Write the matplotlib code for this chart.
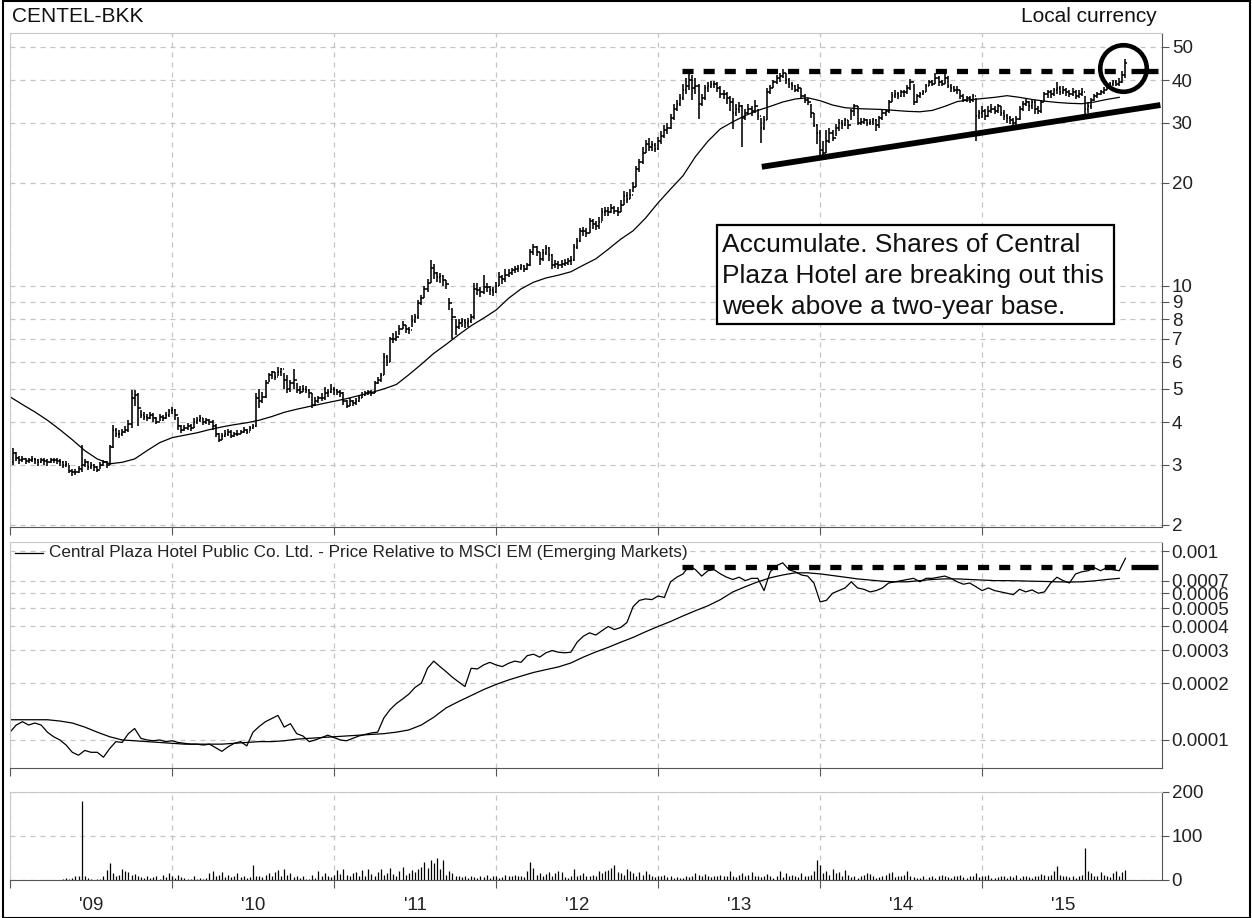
import numpy as np
import matplotlib
matplotlib.use("Agg")
import matplotlib.pyplot as plt
from matplotlib.collections import LineCollection
from matplotlib.patches import Rectangle
from matplotlib.ticker import FixedLocator, FixedFormatter, NullFormatter

plt.rcParams['font.family'] = ['Liberation Sans', 'DejaVu Sans']

# -------------------------------
# Weekly data, first bar = first week of July 2008
# -------------------------------
start_year = 2008.5

close = [
    3.05, 3.25, 3.15, 3.10, 3.12, 3.08, 3.10, 3.12, 3.10, 3.05,
    3.10, 3.08, 3.05, 3.10, 3.10, 3.08, 3.05, 3.00, 3.02, 2.88,
    2.85, 2.86, 2.92, 3.00, 3.05, 2.95, 3.00, 2.95, 2.90, 3.00,
    3.05, 3.00, 3.38, 3.80, 3.70, 3.68, 3.75, 3.80, 3.95, 4.70,
    4.80, 4.40, 4.20, 4.15, 4.10, 4.20, 4.10, 4.00, 4.15, 4.10,
    4.20, 4.30, 4.35, 4.20, 3.90, 3.80, 3.85, 3.90, 3.85, 4.00,
    4.05, 4.10, 4.00, 4.05, 4.00, 3.90, 3.70, 3.55, 3.65, 3.70,
    3.75, 3.65, 3.70, 3.70, 3.75, 3.80, 3.75, 3.85, 3.90, 4.70,
    4.60, 4.75, 5.20, 5.50, 5.60, 5.40, 5.60, 5.70, 5.30, 5.00,
    5.20, 5.30, 4.95, 4.90, 5.00, 4.95, 4.85, 4.50, 4.60, 4.70,
    4.70, 4.85, 4.90, 5.00, 4.95, 4.90, 4.85, 4.60, 4.45, 4.60,
    4.55, 4.60, 4.70, 4.80, 4.85, 4.90, 4.85, 5.20, 5.30, 5.50,
    6.20, 6.00, 7.00, 7.00, 7.10, 7.50, 7.70, 7.50, 7.45, 7.90,
    8.10, 8.90, 9.20, 9.80, 10.2, 11.3, 10.9, 10.6, 10.7, 10.4,
    10.1, 8.90, 8.10, 7.60, 7.80, 7.90, 7.80, 7.90, 8.10, 9.80,
    9.70, 9.60, 9.90, 9.90, 9.70, 9.60, 10.0, 10.6, 10.5, 10.8,
    10.9, 11.1, 11.2, 11.3, 11.4, 11.2, 11.5, 12.6, 13.0, 12.6,
    12.0, 12.5, 12.9, 12.3, 11.5, 11.6, 11.5, 11.6, 11.7, 11.8,
    11.9, 13.0, 13.5, 14.5, 14.5, 14.3, 15.5, 15.2, 15.0, 15.4,
    16.4, 16.6, 16.5, 16.9, 16.6, 16.5, 17.3, 18.3, 18.0, 18.5,
    19.5, 22.0, 23.0, 24.5, 26.0, 25.5, 25.8, 25.2, 26.5, 27.5,
    28.5, 29.0, 31.0, 33.0, 34.0, 35.5, 37.5, 38.5, 40.0, 38.0,
    38.5, 34.0, 35.5, 38.0, 38.5, 39.0, 39.0, 38.0, 36.5, 36.5,
    35.5, 34.5, 32.0, 33.0, 33.5, 31.0, 32.0, 33.0, 32.5, 33.5,
    31.5, 29.0, 30.5, 37.0, 38.0, 39.5, 40.5, 41.0, 42.0, 40.0,
    39.0, 38.5, 37.5, 38.0, 36.0, 35.0, 34.5, 32.0, 29.5, 28.0,
    25.0, 24.5, 26.5, 28.0, 27.0, 29.0, 30.0, 29.5, 30.5, 29.5,
    32.5, 33.5, 30.0, 30.2, 30.5, 30.0, 30.2, 30.5, 29.5, 31.0,
    32.0, 32.5, 34.5, 36.0, 36.5, 36.0, 37.0, 36.8, 38.0, 39.5,
    34.5, 36.0, 36.5, 37.0, 38.5, 39.5, 39.0, 40.5, 39.5, 39.0,
    40.5, 38.5, 38.0, 37.5, 37.5, 36.0, 35.0, 35.5, 35.0, 36.0,
    31.5, 32.0, 32.5, 31.5, 32.5, 33.0, 32.5, 33.5, 32.0, 31.5,
    31.0, 30.5, 30.0, 30.8, 33.0, 34.0, 34.5, 33.5, 34.5, 33.0,
    32.5, 34.5, 36.5, 37.0, 36.5, 37.5, 38.0, 37.0, 37.5, 37.0,
    36.5, 37.0, 36.0, 36.5, 37.0, 33.0, 33.5, 35.0, 36.0, 36.5,
    37.0, 37.5, 38.5, 39.0, 39.5, 39.0, 39.5, 41.5, 45.0,
]

high = [
    3.15, 3.35, 3.28, 3.18, 3.18, 3.15, 3.15, 3.18, 3.15, 3.12,
    3.15, 3.14, 3.12, 3.15, 3.15, 3.14, 3.12, 3.08, 3.07, 3.00,
    2.92, 2.92, 2.98, 3.43, 3.12, 3.08, 3.06, 3.02, 2.97, 3.05,
    3.10, 3.08, 3.42, 3.92, 3.85, 3.78, 3.82, 3.90, 4.05, 4.95,
    4.95, 4.85, 4.35, 4.28, 4.22, 4.28, 4.25, 4.15, 4.22, 4.20,
    4.28, 4.36, 4.42, 4.36, 4.15, 3.92, 3.92, 3.98, 3.95, 4.10,
    4.15, 4.20, 4.12, 4.12, 4.08, 4.05, 3.95, 3.72, 3.72, 3.78,
    3.82, 3.80, 3.75, 3.78, 3.80, 3.86, 3.82, 3.90, 3.96, 4.85,
    5.00, 4.90, 5.30, 5.55, 5.65, 5.60, 5.80, 5.75, 5.55, 5.50,
    5.30, 5.70, 5.20, 5.10, 5.12, 5.10, 5.00, 4.85, 4.72, 4.78,
    4.85, 5.05, 5.00, 5.15, 5.05, 5.00, 4.95, 4.90, 4.65, 4.70,
    4.65, 4.70, 4.78, 4.88, 4.92, 4.96, 4.95, 5.28, 5.40, 5.55,
    6.35, 6.30, 7.10, 7.30, 7.40, 7.70, 7.90, 7.70, 7.60, 8.20,
    8.30, 9.10, 9.40, 10.0, 10.5, 11.9, 11.6, 11.0, 10.9, 10.8,
    10.4, 9.20, 8.60, 8.00, 8.00, 8.05, 8.00, 8.05, 8.30, 10.2,
    10.2, 9.90, 10.8, 10.2, 10.0, 9.90, 10.3, 11.0, 10.8, 11.2,
    11.2, 11.3, 11.4, 11.5, 11.6, 11.5, 11.7, 12.8, 13.3, 13.1,
    12.6, 12.8, 13.2, 13.0, 12.4, 11.9, 11.8, 11.9, 12.0, 12.1,
    12.2, 13.3, 13.8, 14.8, 14.9, 14.8, 15.8, 15.7, 15.5, 15.9,
    16.9, 17.0, 17.0, 17.4, 17.1, 17.0, 17.8, 19.0, 18.8, 19.2,
    20.2, 22.4, 23.5, 25.5, 26.8, 27.0, 26.5, 26.2, 27.2, 28.3,
    29.5, 30.0, 31.8, 34.0, 35.0, 36.5, 39.0, 40.5, 41.8, 41.5,
    40.5, 39.0, 36.5, 38.8, 39.5, 39.8, 39.8, 39.5, 38.5, 37.5,
    37.0, 36.0, 35.5, 34.0, 34.5, 33.8, 33.0, 34.0, 33.5, 35.0,
    33.0, 31.0, 31.5, 37.8, 38.8, 40.0, 41.5, 42.0, 43.0, 42.0,
    40.5, 39.5, 38.8, 39.0, 38.0, 36.5, 35.5, 34.0, 32.0, 29.8,
    28.5, 26.5, 28.5, 29.0, 28.5, 29.8, 30.7, 30.5, 31.0, 30.5,
    33.0, 34.0, 33.5, 31.0, 31.0, 30.8, 30.8, 31.0, 30.8, 31.5,
    32.8, 33.0, 35.0, 36.8, 37.5, 37.0, 37.5, 37.5, 38.8, 40.2,
    39.0, 36.5, 37.0, 37.5, 39.0, 40.0, 40.0, 42.0, 41.0, 40.0,
    42.0, 41.0, 39.0, 38.5, 38.5, 37.5, 36.5, 36.0, 36.0, 36.5,
    35.5, 32.8, 33.5, 33.0, 33.5, 34.0, 33.5, 34.0, 33.5, 32.8,
    31.8, 31.3, 31.0, 31.3, 33.5, 34.8, 35.3, 34.8, 35.0, 35.0,
    33.5, 35.0, 37.0, 37.5, 37.5, 37.8, 39.6, 38.5, 38.5, 38.0,
    37.5, 37.8, 37.5, 37.5, 37.8, 36.0, 34.5, 35.5, 36.5, 37.0,
    37.5, 38.2, 39.0, 39.5, 40.0, 40.0, 40.5, 42.5, 46.0,
]

low = [
    2.98, 3.00, 3.08, 3.02, 3.05, 3.02, 3.03, 3.05, 3.02, 2.98,
    3.03, 3.00, 2.98, 3.03, 3.04, 3.01, 2.98, 2.94, 2.95, 2.83,
    2.78, 2.80, 2.84, 2.85, 2.96, 2.90, 2.92, 2.88, 2.86, 2.92,
    2.98, 2.94, 3.00, 3.35, 3.62, 3.60, 3.64, 3.72, 3.75, 3.85,
    4.45, 3.90, 4.10, 4.05, 4.02, 4.08, 4.00, 3.95, 4.02, 4.02,
    4.08, 4.15, 4.22, 4.05, 3.78, 3.72, 3.76, 3.80, 3.76, 3.85,
    3.95, 4.00, 3.92, 3.95, 3.92, 3.80, 3.62, 3.50, 3.55, 3.62,
    3.65, 3.60, 3.62, 3.64, 3.68, 3.72, 3.68, 3.76, 3.82, 3.88,
    4.40, 4.55, 4.70, 5.25, 5.35, 5.30, 5.45, 5.45, 5.00, 4.85,
    4.90, 5.00, 4.85, 4.82, 4.88, 4.85, 4.70, 4.40, 4.45, 4.55,
    4.60, 4.65, 4.75, 4.85, 4.80, 4.80, 4.72, 4.50, 4.40, 4.45,
    4.45, 4.50, 4.58, 4.70, 4.76, 4.80, 4.76, 4.85, 5.15, 5.25,
    5.50, 5.85, 6.00, 6.80, 6.90, 7.20, 7.50, 7.30, 7.25, 7.60,
    7.80, 8.00, 8.80, 9.20, 9.60, 10.2, 10.5, 10.3, 10.2, 10.0,
    9.80, 8.50, 7.00, 7.20, 7.50, 7.60, 7.55, 7.60, 7.80, 8.00,
    9.40, 9.30, 9.50, 9.60, 9.40, 9.35, 9.55, 10.0, 10.1, 10.3,
    10.6, 10.8, 10.9, 11.0, 11.1, 11.0, 11.1, 11.4, 12.3, 12.2,
    11.5, 11.8, 12.3, 11.8, 11.2, 11.3, 11.2, 11.3, 11.4, 11.5,
    11.5, 11.8, 12.8, 13.4, 14.0, 13.9, 14.3, 14.7, 14.6, 14.7,
    15.5, 16.0, 16.0, 16.3, 16.2, 16.0, 16.4, 17.2, 17.5, 17.9,
    18.8, 19.5, 21.5, 22.8, 24.5, 24.8, 24.8, 24.6, 25.0, 26.0,
    27.0, 27.8, 28.8, 30.5, 32.5, 33.5, 35.0, 36.5, 37.5, 35.0,
    36.5, 30.7, 33.5, 35.0, 37.0, 37.8, 38.0, 36.8, 35.5, 35.3,
    34.0, 32.5, 28.8, 31.5, 32.0, 25.5, 30.5, 31.8, 31.5, 32.0,
    30.5, 26.2, 28.5, 30.5, 36.5, 37.8, 39.0, 39.5, 40.5, 39.0,
    38.0, 37.5, 36.8, 36.8, 35.5, 34.3, 33.8, 31.0, 29.2, 26.0,
    24.0, 23.8, 24.5, 26.2, 26.5, 27.5, 28.3, 28.8, 29.3, 28.8,
    30.5, 31.5, 29.5, 29.5, 29.8, 29.3, 29.6, 29.5, 28.3, 29.0,
    30.5, 31.3, 32.0, 34.5, 35.5, 35.3, 35.8, 35.8, 36.5, 37.5,
    33.8, 34.2, 35.5, 36.2, 36.8, 38.5, 38.3, 39.0, 38.5, 38.5,
    39.0, 38.0, 37.0, 36.8, 36.5, 35.3, 34.5, 34.5, 34.3, 34.5,
    26.6, 30.8, 31.0, 30.5, 31.2, 32.0, 31.8, 32.0, 31.5, 30.5,
    30.0, 29.8, 29.0, 29.6, 30.5, 32.5, 33.5, 32.5, 33.0, 31.8,
    31.8, 32.0, 34.5, 35.5, 35.5, 36.0, 36.5, 36.2, 36.5, 36.0,
    35.8, 36.0, 35.3, 35.5, 36.0, 31.5, 32.0, 33.0, 34.8, 35.5,
    36.2, 36.5, 37.5, 38.2, 38.5, 38.3, 38.5, 39.2, 40.5,
]

# moving average of price, one value every 4 weeks
price_ma = [
    4.74, 4.50, 4.28, 4.05, 3.80, 3.55, 3.30, 3.12, 3.02, 3.05,
    3.12, 3.30, 3.48, 3.60, 3.66, 3.72, 3.80, 3.87, 3.93, 3.98,
    4.05, 4.15, 4.27, 4.36, 4.44, 4.52, 4.60, 4.68, 4.78, 4.88,
    5.00, 5.15, 5.50, 5.90, 6.35, 6.75, 7.20, 7.65, 8.05, 8.50,
    9.20, 9.80, 10.25, 10.55, 10.75, 11.0, 11.5, 12.0, 12.8, 13.7,
    14.5, 15.8, 17.5, 19.2, 21.0, 23.9, 26.5, 28.8, 30.2, 31.5,
    32.6, 33.5, 34.5, 35.2, 35.5, 34.8, 33.8, 33.2, 33.0, 32.9,
    32.8, 32.6, 32.4, 32.3, 32.6, 33.5, 34.6, 35.0, 35.3, 35.6,
    36.0, 35.6, 35.1, 34.7, 34.4, 34.2, 34.1, 34.5, 35.1, 35.6,
]

# price relative to MSCI EM, one value every 2 weeks
relative = [
    0.000110, 0.000120, 0.000125, 0.000120, 0.000123, 0.000120, 0.000110, 0.000104, 0.000100, 0.000094,
    0.000086, 0.000083, 0.000088, 0.000086, 0.000086, 0.000081, 0.000090, 0.000098, 0.000097, 0.000108,
    0.000115, 0.000102, 0.000100, 0.000099, 0.000100, 0.000098, 0.000099, 0.000097, 0.000096, 0.000095,
    0.000095, 0.000094, 0.000095, 0.000091, 0.000087, 0.000092, 0.000096, 0.000098, 0.000093, 0.000110,
    0.000118, 0.000125, 0.000130, 0.000135, 0.000117, 0.000122, 0.000108, 0.000105, 0.000098, 0.000100,
    0.000103, 0.000106, 0.000103, 0.000100, 0.000099, 0.000102, 0.000105, 0.000107, 0.000109, 0.000110,
    0.000131, 0.000145, 0.000156, 0.000165, 0.000175, 0.000190, 0.000200, 0.000240, 0.000262, 0.000245,
    0.000230, 0.000215, 0.000203, 0.000192, 0.000240, 0.000238, 0.000250, 0.000258, 0.000250, 0.000245,
    0.000255, 0.000262, 0.000258, 0.000280, 0.000285, 0.000275, 0.000290, 0.000298, 0.000292, 0.000290,
    0.000292, 0.000330, 0.000355, 0.000370, 0.000360, 0.000380, 0.000400, 0.000385, 0.000395, 0.000420,
    0.000510, 0.000550, 0.000560, 0.000555, 0.000580, 0.000570, 0.000690, 0.000730, 0.000760, 0.000840,
    0.000800, 0.000740, 0.000790, 0.000800, 0.000760, 0.000730, 0.000710, 0.000730, 0.000700, 0.000720,
    0.000720, 0.000620, 0.000780, 0.000840, 0.000870, 0.000800, 0.000780, 0.000750, 0.000740, 0.000680,
    0.000540, 0.000550, 0.000600, 0.000620, 0.000640, 0.000690, 0.000640, 0.000630, 0.000610, 0.000620,
    0.000640, 0.000680, 0.000690, 0.000700, 0.000710, 0.000720, 0.000690, 0.000720, 0.000720, 0.000730,
    0.000740, 0.000720, 0.000690, 0.000670, 0.000680, 0.000650, 0.000620, 0.000640, 0.000620, 0.000610,
    0.000600, 0.000590, 0.000630, 0.000610, 0.000625, 0.000600, 0.000610, 0.000680, 0.000730, 0.000700,
    0.000680, 0.000760, 0.000780, 0.000790, 0.000820, 0.000790, 0.000820, 0.000800, 0.000790, 0.000920,
]

# moving average of the relative line, one value every 4 weeks
relative_ma = [
    0.000128, 0.000128, 0.000128, 0.000128, 0.000126, 0.000123, 0.000117, 0.000110, 0.000104, 0.000100,
    0.000099, 0.000098, 0.000097, 0.000096, 0.000095, 0.000095, 0.000095, 0.000095, 0.000096, 0.000097,
    0.000098, 0.000098, 0.000099, 0.000101, 0.000102, 0.000103, 0.000104, 0.000105, 0.000106, 0.000107,
    0.000108, 0.000110, 0.000113, 0.000120, 0.000132, 0.000148, 0.000160, 0.000172, 0.000185, 0.000197,
    0.000208, 0.000218, 0.000228, 0.000236, 0.000244, 0.000256, 0.000275, 0.000293, 0.000310, 0.000330,
    0.000350, 0.000375, 0.000400, 0.000425, 0.000455, 0.000485, 0.000515, 0.000555, 0.000610, 0.000650,
    0.000690, 0.000725, 0.000750, 0.000770, 0.000770, 0.000760, 0.000745, 0.000730, 0.000715, 0.000705,
    0.000695, 0.000690, 0.000690, 0.000700, 0.000710, 0.000715, 0.000715, 0.000710, 0.000705, 0.000700,
    0.000700, 0.000698, 0.000695, 0.000693, 0.000690, 0.000688, 0.000690, 0.000698, 0.000710, 0.000720,
]

# weekly volume
volume = [
    0, 0, 0, 0, 0, 0, 0, 0, 0, 0,
    0, 0, 0, 0, 0, 0, 0, 3, 5, 2,
    4, 8, 8, 180, 10, 4, 2, 1, 2, 3,
    8, 22, 38, 15, 10, 12, 25, 20, 18, 12,
    14, 10, 6, 5, 8, 4, 6, 10, 3, 12,
    6, 15, 10, 4, 12, 6, 5, 3, 2, 8,
    2, 4, 3, 5, 15, 20, 8, 12, 18, 6,
    12, 7, 9, 15, 6, 10, 4, 6, 35, 8,
    10, 6, 12, 15, 8, 18, 22, 10, 25, 12,
    15, 6, 8, 4, 10, 3, 2, 12, 5, 20,
    8, 15, 10, 6, 12, 22, 14, 25, 12, 8,
    15, 18, 10, 22, 10, 25, 14, 8, 18, 24,
    12, 16, 28, 14, 10, 20, 30, 12, 16, 22,
    18, 24, 30, 40, 28, 45, 38, 50, 25, 45,
    12, 20, 15, 8, 10, 6, 8, 5, 10, 6,
    4, 8, 6, 12, 5, 10, 8, 4, 6, 12,
    8, 10, 12, 10, 8, 6, 20, 40, 28, 12,
    15, 10, 14, 18, 8, 16, 20, 18, 6, 4,
    10, 25, 8, 12, 15, 10, 8, 12, 10, 20,
    15, 20, 22, 28, 35, 18, 15, 12, 25, 20,
    15, 10, 18, 12, 20, 14, 8, 6, 10, 8,
    12, 6, 8, 5, 6, 4, 5, 8, 6, 10,
    15, 12, 8, 14, 10, 6, 8, 10, 12, 8,
    10, 20, 8, 6, 12, 15, 10, 12, 18, 8,
    10, 6, 8, 14, 10, 5, 8, 20, 6, 15,
    8, 12, 10, 6, 15, 8, 10, 12, 20, 45,
    35, 15, 20, 12, 25, 15, 18, 10, 22, 12,
    6, 8, 5, 10, 12, 15, 14, 8, 4, 6,
    8, 12, 15, 18, 6, 10, 8, 12, 20, 8,
    6, 5, 4, 8, 3, 6, 8, 5, 10, 12,
    8, 6, 4, 10, 8, 12, 6, 5, 10, 8,
    15, 6, 10, 8, 12, 5, 4, 6, 10, 8,
    5, 8, 6, 12, 4, 8, 10, 6, 5, 8,
    10, 14, 12, 8, 12, 20, 32, 12, 8, 10,
    6, 8, 5, 10, 12, 73, 20, 15, 10, 8,
    18, 12, 10, 6, 15, 20, 10, 18, 22,
]

# annotation levels
resistance_price = 42.5
resistance_relative = 0.00083
resistance_span = (2012.65, 2015.37)     # dashed part
resistance_tail = (2015.42, 2015.585)    # last solid piece
trend_start = (2013.14, 22.3)
trend_end = (2015.60, 33.8)
breakout_point = (2015.37, 43.4)

price_ticks = [2, 3, 4, 5, 6, 7, 8, 9, 10, 20, 30, 40, 50]
relative_ticks = [0.00007, 0.0001, 0.0002, 0.0003, 0.0004, 0.0005, 0.0006, 0.0007, 0.001]
relative_labels = ['0.00007', '0.0001', '0.0002', '0.0003', '0.0004', '0.0005', '0.0006', '0.0007', '0.001']
volume_ticks = [0, 100, 200]
half_year_ticks = [2008.5, 2009.5, 2010.5, 2011.5, 2012.5, 2013.5, 2014.5]
year_ticks = [2009, 2010, 2011, 2012, 2013, 2014, 2015]
year_labels = ["'09", "'10", "'11", "'12", "'13", "'14", "'15"]

# -------------------------------
# Build the figure
# -------------------------------
weeks = start_year + np.arange(len(close)) / 52.0
close = np.array(close)
high = np.array(high)
low = np.array(low)
opens = np.concatenate([[close[0]], close[:-1]])

W, H = 1252, 918
fig = plt.figure(figsize=(W / 100, H / 100), dpi=100)

def px_axes(x0, y0, x1, y1):
    return fig.add_axes([x0 / W, 1 - y1 / H, (x1 - x0) / W, (y1 - y0) / H])

ax1 = px_axes(10, 33, 1162, 527)
ax2 = px_axes(10, 542, 1162, 768)
ax3 = px_axes(10, 792, 1162, 880)

x_min, x_max = 2008.5, 2015.61
grid_kw = dict(color='#c4c4c4', linestyle=(0, (4, 4)), linewidth=0.9)

for ax in (ax1, ax2, ax3):
    ax.set_xlim(x_min, x_max)
    ax.yaxis.tick_right()
    ax.spines['top'].set_color('#c8c8c8')
    ax.spines['left'].set_color('#c8c8c8')
    ax.spines['right'].set_color('#555555')
    ax.spines['bottom'].set_color('#555555')
    ax.xaxis.set_major_locator(FixedLocator(half_year_ticks))
    ax.xaxis.set_major_formatter(NullFormatter())
    ax.tick_params(axis='x', which='major', direction='out', length=6, color='#555555')
    ax.tick_params(axis='y', which='both', direction='out', length=5, color='#555555',
                   labelsize=13.5, labelcolor='#222222', pad=2)
    ax.grid(True, axis='both', which='major', **grid_kw)
    ax.set_axisbelow(True)

# ---- price panel ----
ax1.set_yscale('log')
ax1.set_ylim(1.973, 54.9)
ax1.yaxis.set_major_locator(FixedLocator(price_ticks))
ax1.yaxis.set_major_formatter(FixedFormatter([str(t) for t in price_ticks]))
ax1.yaxis.set_minor_locator(FixedLocator([]))

tick_w = 0.45 / 52
segs = []
for x, o, h, l, c in zip(weeks, opens, high, low, close):
    segs.append([(x, l), (x, h)])
    segs.append([(x - tick_w, o), (x, o)])
    segs.append([(x, c), (x + tick_w, c)])
ax1.add_collection(LineCollection(segs, colors='black', linewidths=1.15))

ax1.plot(weeks[::4], price_ma, color='black', linewidth=0.9)

# resistance, trend line and breakout circle
dash_kw = dict(color='black', linewidth=3.8, dashes=(2.1, 1.9), dash_capstyle='butt')
ax1.plot(resistance_span, [resistance_price] * 2, **dash_kw)
ax1.plot(resistance_tail, [resistance_price] * 2, color='black', linewidth=3.8,
         solid_capstyle='butt')
ax1.plot([trend_start[0], trend_end[0]], [trend_start[1], trend_end[1]], color='black',
         linewidth=4.2, solid_capstyle='butt', clip_on=False)
ax1.plot([breakout_point[0]], [breakout_point[1]], marker='o', markersize=33.5,
         markerfacecolor='none', markeredgecolor='black', markeredgewidth=3.3, clip_on=False)

# comment box
ax1.add_patch(Rectangle((707 / 1152, 1 - 291 / 494), 397 / 1152, 99 / 494,
                        transform=ax1.transAxes, facecolor='white', edgecolor='black',
                        linewidth=1.6, zorder=5))
ax1.text(712 / 1152, 1 - 243 / 494,
         "Accumulate. Shares of Central\nPlaza Hotel are breaking out this\nweek above a two-year base.",
         transform=ax1.transAxes, ha='left', va='center', fontsize=19, linespacing=1.36,
         color='#111111', zorder=6)

# ---- relative panel ----
ax2.set_yscale('log')
ax2.set_ylim(0.0000710, 0.001122)
ax2.yaxis.set_major_locator(FixedLocator(relative_ticks))
ax2.yaxis.set_major_formatter(FixedFormatter(relative_labels))
ax2.yaxis.set_minor_locator(FixedLocator([]))

ax2.plot(weeks[::2], relative, color='black', linewidth=0.9)
ax2.plot(weeks[::4], relative_ma, color='black', linewidth=0.9)
ax2.plot(resistance_span, [resistance_relative] * 2, **dash_kw)
ax2.plot(resistance_tail, [resistance_relative] * 2, color='black', linewidth=3.8,
         solid_capstyle='butt')

ax2.plot([5 / 1152, 33 / 1152], [1 - 11 / 226, 1 - 11 / 226], color='black',
         linewidth=0.9, transform=ax2.transAxes)
ax2.text(39 / 1152, 1 - 11 / 226,
         "Central Plaza Hotel Public Co. Ltd. - Price Relative to MSCI EM (Emerging Markets)",
         transform=ax2.transAxes, ha='left', va='center', fontsize=12.3, color='#222222',
         bbox=dict(facecolor='white', edgecolor='none', pad=0.5))

# ---- volume panel ----
ax3.set_ylim(0, 200)
ax3.yaxis.set_major_locator(FixedLocator(volume_ticks))
ax3.yaxis.set_major_formatter(FixedFormatter([str(t) for t in volume_ticks]))
ax3.vlines(weeks, 0, volume, color='black', linewidth=0.9)

ax3.xaxis.set_minor_locator(FixedLocator(year_ticks))
ax3.xaxis.set_minor_formatter(FixedFormatter(year_labels))
ax3.tick_params(axis='x', which='minor', length=0, pad=12, labelsize=13.5, labelcolor='#222222')

# ---- titles and frame ----
fig.text(12 / W, 1 - 17 / H, "CENTEL-BKK", ha='left', va='center', fontsize=15, color='#111111')
fig.text(1157 / W, 1 - 17 / H, "Local currency", ha='right', va='center', fontsize=15, color='#111111')
fig.patches.append(Rectangle((2.5 / W, 0.5 / H), (W - 4.5) / W, (H - 1.5) / H,
                             transform=fig.transFigure, fill=False, edgecolor='black', linewidth=1.5))

fig.savefig("out.png", dpi=100)
